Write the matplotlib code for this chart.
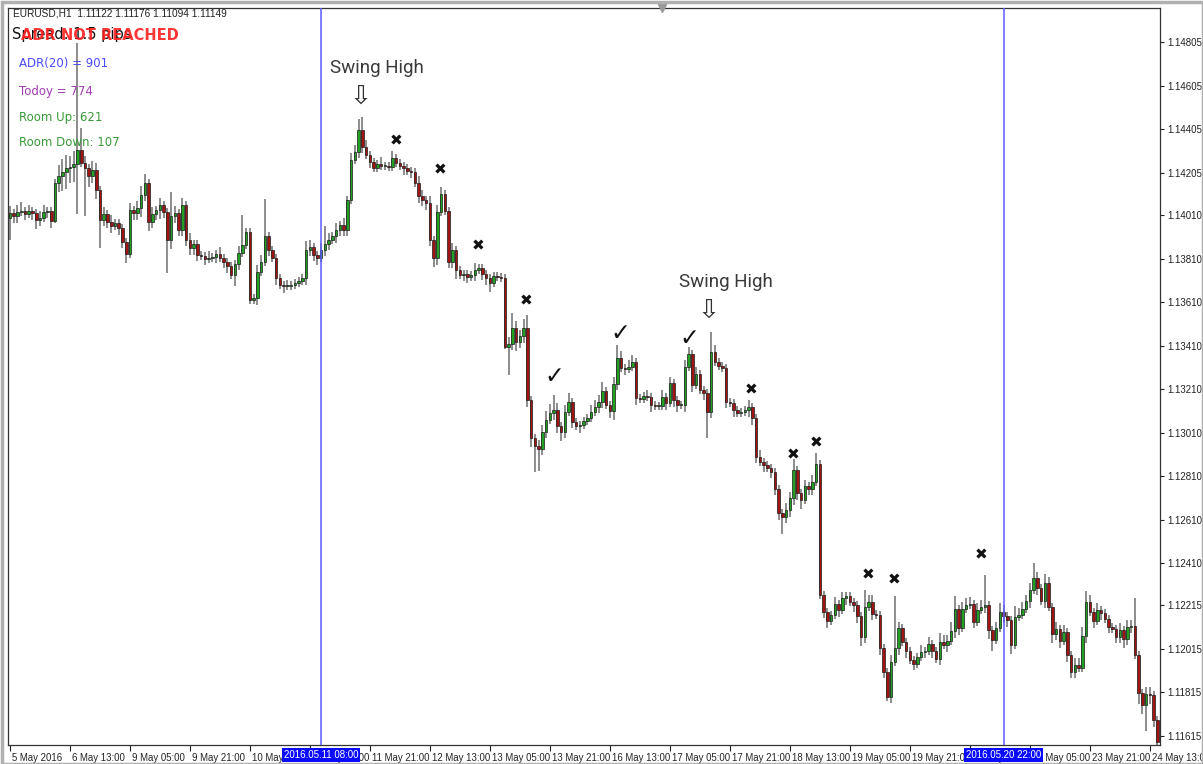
import matplotlib
matplotlib.use("Agg")
import matplotlib.pyplot as plt
import matplotlib.transforms as mtransforms
from matplotlib.patches import Rectangle
import numpy as np

# EURUSD H1 closes (open = previous close)
first_open = 1.13997
closes = [
    1.14020, 1.14006, 1.14025, 1.14029, 1.14016, 1.14029, 1.14020, 1.13988, 1.13997, 1.14025,
    1.14029, 1.13983, 1.14158, 1.14190, 1.14209, 1.14227, 1.14232, 1.14246, 1.14310, 1.14250,
    1.14227, 1.14190, 1.14218, 1.14126, 1.13988, 1.14016, 1.13979, 1.13960, 1.13974, 1.13951,
    1.13887, 1.13832, 1.14034, 1.14020, 1.14043, 1.14103, 1.14158, 1.13979, 1.14016, 1.14034,
    1.14057, 1.14025, 1.13896, 1.14006, 1.14020, 1.13942, 1.14057, 1.13896, 1.13859, 1.13878,
    1.13827, 1.13822, 1.13809, 1.13813, 1.13818, 1.13832, 1.13813, 1.13795, 1.13776, 1.13735,
    1.13786, 1.13836, 1.13873, 1.13933, 1.13620, 1.13629, 1.13749, 1.13795, 1.13914, 1.13850,
    1.13813, 1.13721, 1.13689, 1.13684, 1.13684, 1.13689, 1.13698, 1.13707, 1.13721, 1.13850,
    1.13864, 1.13827, 1.13813, 1.13850, 1.13878, 1.13896, 1.13914, 1.13942, 1.13965, 1.13942,
    1.14080, 1.14264, 1.14301, 1.14402, 1.14324, 1.14287, 1.14255, 1.14227, 1.14246, 1.14236,
    1.14236, 1.14232, 1.14273, 1.14250, 1.14236, 1.14227, 1.14213, 1.14209, 1.14158, 1.14098,
    1.14080, 1.14066, 1.13896, 1.13813, 1.14025, 1.14108, 1.14029, 1.13795, 1.13850, 1.13758,
    1.13735, 1.13740, 1.13726, 1.13735, 1.13758, 1.13767, 1.13740, 1.13721, 1.13698, 1.13730,
    1.13726, 1.13721, 1.13404, 1.13418, 1.13491, 1.13427, 1.13454, 1.13491, 1.13160, 1.12985,
    1.12948, 1.12935, 1.13013, 1.13068, 1.13100, 1.13114, 1.13040, 1.13013, 1.13105, 1.13151,
    1.13059, 1.13040, 1.13045, 1.13063, 1.13077, 1.13105, 1.13128, 1.13151, 1.13201, 1.13137,
    1.13109, 1.13234, 1.13353, 1.13307, 1.13303, 1.13312, 1.13335, 1.13169, 1.13165, 1.13178,
    1.13174, 1.13137, 1.13132, 1.13132, 1.13174, 1.13146, 1.13238, 1.13160, 1.13137, 1.13137,
    1.13312, 1.13372, 1.13229, 1.13280, 1.13206, 1.13192, 1.13105, 1.13381, 1.13335, 1.13316,
    1.13307, 1.13151, 1.13146, 1.13114, 1.13100, 1.13105, 1.13114, 1.13128, 1.13077, 1.12898,
    1.12875, 1.12861, 1.12847, 1.12829, 1.12751, 1.12640, 1.12622, 1.12654, 1.12709, 1.12838,
    1.12732, 1.12700, 1.12764, 1.12751, 1.12783, 1.12866, 1.12263, 1.12185, 1.12143, 1.12171,
    1.12222, 1.12194, 1.12249, 1.12258, 1.12231, 1.12217, 1.12166, 1.12070, 1.12208, 1.12231,
    1.12176, 1.12171, 1.12019, 1.11909, 1.11794, 1.11955, 1.12019, 1.12111, 1.12047, 1.12005,
    1.11964, 1.11946, 1.11978, 1.12001, 1.12005, 1.12038, 1.12005, 1.11969, 1.12047, 1.12033,
    1.12051, 1.12097, 1.12199, 1.12111, 1.12199, 1.12217, 1.12222, 1.12139, 1.12194, 1.12208,
    1.12217, 1.12102, 1.12056, 1.12111, 1.12185, 1.12166, 1.12148, 1.12033, 1.12162, 1.12171,
    1.12199, 1.12235, 1.12286, 1.12341, 1.12295, 1.12235, 1.12318, 1.12208, 1.12084, 1.12107,
    1.12051, 1.12093, 1.11987, 1.11909, 1.11941, 1.11927, 1.12074, 1.12231, 1.12185, 1.12143,
    1.12194, 1.12180, 1.12153, 1.12116, 1.12107, 1.12070, 1.12102, 1.12061, 1.12116, 1.12120,
    1.11987, 1.11812, 1.11757, 1.11808, 1.11803, 1.11688, 1.11587,
]
# wick lengths in pips above / below the body
upper_wick = [
    3, 2, 3, 4, 2, 3, 2, 2, 3, 3,
    2, 2, 2, 5, 6, 6, 5, 6, 49, 10,
    3, 2, 4, 3, 2, 3, 2, 3, 2, 2,
    2, 2, 3, 2, 3, 4, 4, 2, 3, 2,
    3, 2, 2, 11, 3, 2, 3, 2, 3, 2,
    2, 2, 2, 3, 2, 2, 3, 2, 2, 2,
    2, 3, 14, 2, 2, 2, 3, 3, 17, 2,
    2, 2, 2, 2, 3, 2, 2, 2, 2, 4,
    3, 2, 2, 3, 8, 3, 2, 3, 2, 3,
    2, 3, 3, 5, 6, 3, 2, 2, 2, 3,
    2, 2, 3, 2, 2, 2, 2, 2, 2, 3,
    3, 2, 3, 2, 3, 3, 2, 2, 3, 2,
    2, 2, 2, 2, 3, 2, 2, 2, 2, 2,
    2, 2, 2, 3, 7, 3, 3, 4, 6, 2,
    2, 3, 3, 4, 4, 7, 3, 2, 3, 4,
    2, 2, 2, 2, 2, 3, 3, 3, 4, 2,
    2, 3, 6, 3, 2, 3, 3, 2, 2, 2,
    3, 2, 2, 2, 3, 2, 3, 2, 2, 2,
    3, 3, 2, 3, 2, 2, 2, 9, 3, 2,
    2, 2, 2, 2, 2, 2, 2, 3, 2, 2,
    3, 2, 2, 2, 2, 2, 2, 3, 3, 5,
    2, 2, 3, 2, 3, 5, 2, 2, 2, 2,
    3, 2, 3, 2, 2, 2, 2, 2, 8, 3,
    3, 2, 2, 2, 2, 3, 24, 3, 2, 2,
    2, 2, 2, 3, 2, 3, 2, 2, 4, 3,
    3, 4, 6, 2, 3, 3, 3, 2, 3, 3,
    14, 2, 2, 3, 4, 3, 2, 2, 5, 3,
    3, 3, 3, 7, 3, 2, 4, 3, 2, 3,
    2, 3, 2, 2, 3, 3, 4, 5, 3, 2,
    3, 2, 2, 2, 2, 2, 3, 2, 3, 3,
    13, 2, 2, 3, 3, 2, 2,
]
lower_wick = [
    10, 3, 3, 2, 3, 2, 3, 4, 3, 2,
    3, 3, 1, 4, 7, 8, 7, 7, 23, 2,
    22, 5, 3, 4, 13, 3, 3, 3, 2, 3,
    3, 4, 2, 3, 3, 4, 3, 4, 3, 3,
    4, 3, 15, 4, 3, 3, 3, 3, 3, 3,
    3, 2, 3, 2, 2, 3, 2, 3, 3, 2,
    5, 3, 2, 2, 2, 2, 3, 2, 2, 3,
    2, 3, 2, 3, 2, 2, 2, 2, 2, 3,
    3, 3, 3, 2, 3, 3, 2, 3, 3, 3,
    3, 2, 2, 3, 3, 2, 3, 2, 2, 2,
    2, 2, 2, 2, 2, 3, 2, 3, 2, 3,
    3, 3, 3, 4, 3, 2, 2, 3, 3, 4,
    2, 3, 3, 2, 3, 2, 3, 3, 4, 2,
    2, 2, 1, 13, 3, 4, 3, 3, 3, 4,
    12, 10, 3, 3, 2, 3, 3, 4, 3, 2,
    3, 2, 3, 2, 2, 2, 2, 3, 3, 2,
    3, 4, 3, 2, 3, 2, 2, 3, 2, 2,
    2, 3, 2, 2, 2, 3, 2, 3, 3, 2,
    3, 2, 3, 2, 2, 3, 12, 3, 2, 2,
    2, 3, 2, 3, 2, 2, 2, 3, 3, 3,
    2, 3, 2, 3, 3, 3, 8, 3, 3, 3,
    3, 4, 2, 3, 3, 2, 2, 3, 3, 2,
    2, 3, 2, 3, 2, 3, 3, 4, 3, 2,
    3, 2, 3, 3, 2, 3, 2, 3, 2, 3,
    2, 3, 2, 2, 3, 2, 3, 2, 3, 2,
    3, 2, 3, 3, 2, 2, 2, 3, 2, 2,
    3, 4, 5, 2, 2, 3, 3, 4, 2, 2,
    2, 2, 3, 2, 3, 2, 3, 2, 4, 3,
    3, 2, 3, 3, 3, 2, 2, 3, 2, 3,
    2, 3, 2, 3, 2, 3, 3, 4, 3, 3,
    2, 5, 4, 12, 4, 3, 2,
]

price_ticks = [1.14805, 1.14605, 1.14405, 1.14205, 1.14010, 1.13810, 1.13610, 1.13410,
               1.13210, 1.13010, 1.12810, 1.12610, 1.12410, 1.12215, 1.12015, 1.11815, 1.11615]
date_tick_bars = [0, 16, 32, 48, 64, 80, 96, 112, 128, 144, 160, 176, 192, 208, 224, 240,
                  256, 272, 288, 304]
date_labels = ["5 May 2016", "6 May 13:00", "9 May 05:00", "9 May 21:00", "10 May 13:00",
               "11 May 05:00", "11 May 21:00", "12 May 13:00", "13 May 05:00", "13 May 21:00",
               "16 May 13:00", "17 May 05:00", "17 May 21:00", "18 May 13:00", "19 May 05:00",
               "19 May 21:00", "20 May 13:00", "23 May 05:00", "23 May 21:00", "24 May 13:00"]
vline_bars = [83, 265]
vline_labels = ["2016.05.11 08:00", "2016.05.20 22:00"]

# annotations (bar index, price)
cross_marks = [(102.9, 1.14351), (114.7, 1.14218), (124.8, 1.13868), (137.6, 1.13615),
               (197.6, 1.13206), (208.8, 1.12907), (214.9, 1.12962), (228.8, 1.12355),
               (235.7, 1.12332), (258.9, 1.12447)]
check_marks = [(145.1, 1.13270), (162.7, 1.13468), (181.3, 1.13445)]
swing_highs = [((97.9, 1.14687), (93.6, 1.14554)), ((190.9, 1.13703), (186.4, 1.13569))]

closes = np.array(closes)
opens = np.concatenate([[first_open], closes[:-1]])
highs = np.maximum(opens, closes) + np.array(upper_wick) * 0.0001
lows = np.minimum(opens, closes) - np.array(lower_wick) * 0.0001
x = np.arange(len(closes))

W, H = 1203, 764
fig = plt.figure(figsize=(W / 100, H / 100), dpi=100)
ax = fig.add_axes([8 / W, 19 / H, 1152 / W, 737 / H])

ax.vlines(x, lows, highs, color='#6e6e6e', lw=1.1, zorder=2)
up = closes >= opens
body = np.maximum(np.abs(closes - opens), 0.00003)
ax.bar(x, body, bottom=np.minimum(opens, closes), width=0.68,
       color=np.where(up, '#22a022', '#a01414'), edgecolor='#1a1a1a', lw=0.5, zorder=3)

for b in vline_bars:
    ax.axvline(b, color='#5b5bff', lw=1.1, zorder=4)

ax.set_xlim(-0.53, 306.7)
ax.set_ylim(1.11573, 1.14963)

ax.yaxis.tick_right()
ax.set_yticks(price_ticks)
ax.set_yticklabels([f"{p:.5f}" for p in price_ticks])
ax.tick_params(axis='y', length=3, pad=2, labelsize=7, colors='#222222', direction='out')
ax.set_xticks(date_tick_bars)
ax.set_xticklabels(date_labels)
ax.tick_params(axis='x', length=4, pad=2, labelsize=6.9, colors='#222222', direction='out')
shift = mtransforms.ScaledTranslation(0.025, 0, fig.dpi_scale_trans)
for lbl in ax.get_xticklabels():
    lbl.set_horizontalalignment('left')
    lbl.set_transform(lbl.get_transform() + shift)
for lbl in ax.get_xticklabels() + ax.get_yticklabels():
    lbl.set_family('Liberation Sans')
for s in ax.spines.values():
    s.set_color('#333333')
    s.set_linewidth(0.9)

trans = mtransforms.blended_transform_factory(ax.transData, ax.transAxes)
for b, t in zip(vline_bars, vline_labels):
    ax.text(b, -0.0135, t, transform=trans, ha='center', va='center', fontsize=7.0,
            color='white', family='Liberation Sans', clip_on=False, zorder=10,
            bbox=dict(boxstyle='square,pad=0.2', fc='#0a0aff', ec='none'))

for cx, cy in cross_marks:
    ax.text(cx, cy, '\u2716', ha='center', va='center', fontsize=11, color='#111111',
            family='DejaVu Sans', zorder=6)
for cx, cy in check_marks:
    ax.text(cx, cy, '\u2713', ha='center', va='center', fontsize=17, color='#111111',
            family='DejaVu Sans', zorder=6)
for (tx, ty), (axx, ayy) in swing_highs:
    ax.text(tx, ty, 'Swing High', ha='center', va='center', fontsize=13.5,
            color='#3a3a3a', family='Roboto', zorder=6)
    ax.text(axx, ayy, '\u21e9', ha='center', va='center', fontsize=19,
            color='#333333', family='DejaVu Sans', zorder=6)

# shift marker at the top of the chart
ax.plot([(662 - 10) / 3.75], [1.14963], marker='v', ms=6, color='#9a9a9a',
        clip_on=False, zorder=7)

# info panel (top-left)
def ftext(px, py, s, **kw):
    fig.text(px / W, 1 - py / H, s, va='center', ha='left', **kw)

ftext(13, 13, 'EURUSD,H1  1.11122 1.11176 1.11094 1.11149', fontsize=7.3,
      color='#222222', family='Liberation Sans')
ftext(12, 35, 'Spread: 1.5 pips', fontsize=10.5, color='#111111', family='DejaVu Sans')
ftext(21, 35, 'ADR NOT REACHED', fontsize=10.5, color='#ff2020', family='DejaVu Sans',
      fontweight='bold', alpha=0.9)
ftext(19, 64, 'ADR(20) = 901', fontsize=8.5, color='#4a4aff', family='DejaVu Sans')
ftext(19, 91, 'Todoy = 774', fontsize=8.5, color='#a03cb0', family='DejaVu Sans')
ftext(19, 117, 'Room Up: 621', fontsize=8.5, color='#3a9a3a', family='DejaVu Sans')
ftext(19, 143, 'Room Down: 107', fontsize=8.5, color='#3a9a3a', family='DejaVu Sans')

# window frame (top and left edges)
fig.patches.append(Rectangle((2 / W, 0), 1 - 2 / W, 1 - 2 / H, transform=fig.transFigure,
                             fill=False, ec='#b0b0b0', lw=2.5))

fig.savefig('out.png', dpi=100)
